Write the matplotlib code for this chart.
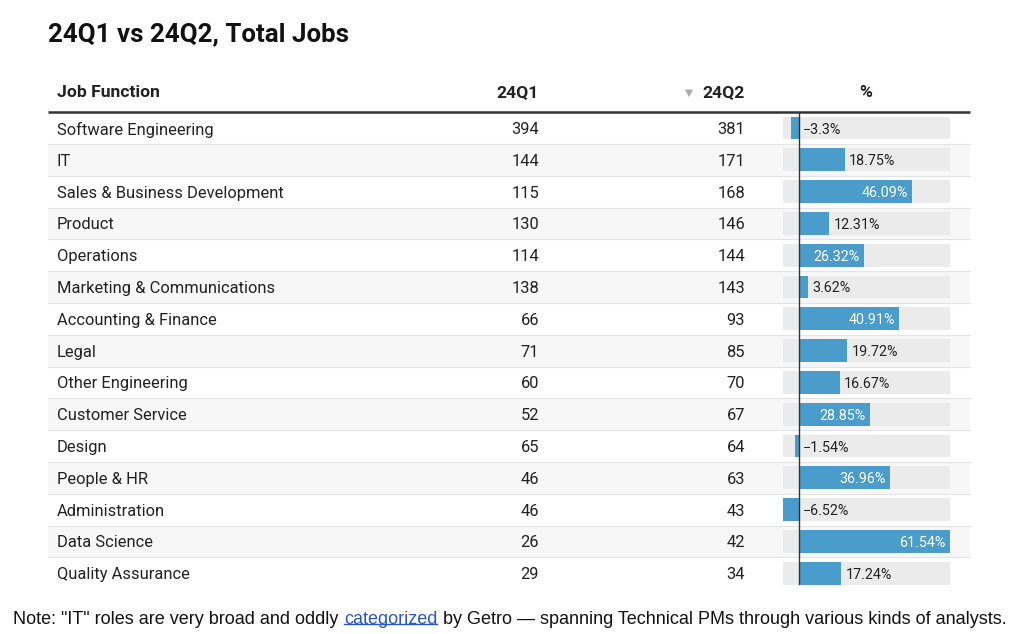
import matplotlib.pyplot as plt

# data
functions = [
    "Software Engineering", "IT", "Sales & Business Development", "Product",
    "Operations", "Marketing & Communications", "Accounting & Finance", "Legal",
    "Other Engineering", "Customer Service", "Design", "People & HR",
    "Administration", "Data Science", "Quality Assurance",
]
q1 = [394, 144, 115, 130, 114, 138, 66, 71, 60, 52, 65, 46, 46, 26, 29]
q2 = [381, 171, 168, 146, 144, 143, 93, 85, 70, 67, 64, 63, 43, 42, 34]

pct = [round((b - a) / a * 100, 2) for a, b in zip(q1, q2)]


def fmt_pct(v):
    s = f"{abs(v):.2f}".rstrip("0").rstrip(".")
    return ("\u2212" if v < 0 else "") + s + "%"


W, H = 1012, 634
fig = plt.figure(figsize=(W / 100, H / 100), dpi=100)
plt.rcParams["font.family"] = ["Roboto", "DejaVu Sans"]

ax = fig.add_axes([0, 0, 1, 1])
ax.set_xlim(0, W)
ax.set_ylim(H, 0)
ax.axis("off")

left, right = 48, 970
y0, step = 128, 31.8
n = len(functions)

ax.text(48, 32, "24Q1 vs 24Q2, Total Jobs", fontsize=18.6, fontweight="bold",
        va="center_baseline", color="#111111")

# header
hy = 91
hfs = 12.6
ax.text(57, hy, "Job Function", fontsize=hfs, fontweight="bold", va="center_baseline", color="#222222")
ax.text(539, hy, "24Q1", fontsize=hfs, fontweight="bold", va="center_baseline", ha="right", color="#222222")
ax.text(745, hy, "24Q2", fontsize=hfs, fontweight="bold", va="center_baseline", ha="right", color="#222222")
ax.text(689, hy + 1, "\u25bc", fontsize=7.5, family="DejaVu Sans", va="center_baseline",
        ha="center", color="#aaaaaa")
ax.text(866, hy, "%", fontsize=hfs, fontweight="bold", va="center_baseline", ha="center", color="#222222")
ax.plot([left, right], [112, 112], color="#333333", lw=1.8, solid_capstyle="butt")

# rows
rfs = 11.9
for i, name in enumerate(functions):
    cy = y0 + i * step
    top, bot = cy - step / 2, cy + step / 2
    if i % 2 == 1:
        ax.axhspan(top, bot, xmin=left / W, xmax=right / W, color="#f7f7f7", lw=0)
    if i > 0:
        ax.plot([left, right], [top, top], color="#e4e4e4", lw=0.8)
    ax.text(57, cy, name, fontsize=rfs, va="center_baseline", color="#222222")
    ax.text(539, cy, str(q1[i]), fontsize=rfs, va="center_baseline", ha="right", color="#222222")
    ax.text(745, cy, str(q2[i]), fontsize=rfs, va="center_baseline", ha="right", color="#222222")

# bar column
bx0, bx1 = 783, 950
ytop, ybot = y0 - step / 2, y0 + (n - 0.5) * step
bx = fig.add_axes([bx0 / W, 1 - ybot / H, (bx1 - bx0) / W, (ybot - ytop) / H])
bx.patch.set_alpha(0)
lo, hi = min(pct), max(pct)
bx.set_xlim(lo, hi)
bx.set_ylim(n - 0.5, -0.5)
bx.axis("off")
rows = list(range(n))
bx.barh(rows, [hi - lo] * n, left=lo, height=0.72, color="#ebebeb", lw=0)
bx.barh(rows, pct, height=0.72, color="#4a9dcb", lw=0)
bx.axvline(0, ymin=0.01, ymax=1.0, color="#333333", lw=1)
pfs = 10.3
for i, v in enumerate(pct):
    lab = fmt_pct(v)
    if v > 25:
        bx.annotate(lab, (v, i), xytext=(-3, 0), textcoords="offset points", ha="right",
                    va="center_baseline", fontsize=pfs, color="white")
    elif v > 0:
        bx.annotate(lab, (v, i), xytext=(3, 0), textcoords="offset points", ha="left",
                    va="center_baseline", fontsize=pfs, color="#222222")
    else:
        bx.annotate(lab, (0, i), xytext=(3, 0), textcoords="offset points", ha="left",
                    va="center_baseline", fontsize=pfs, color="#222222")

# footnote
ny = 628
fs = 13
t1 = ax.text(13, ny, 'Note: "IT" roles are very broad and oddly', fontsize=fs,
             family="Liberation Sans", va="bottom", color="#111111")
t2 = ax.annotate("categorized", xy=(1, 0), xycoords=t1, xytext=(4, 0),
                 textcoords="offset points", fontsize=fs, family="Liberation Sans",
                 va="bottom", color="#2a57c6")
t3 = ax.annotate("by Getro \u2014 spanning Technical PMs through various kinds of analysts.",
                 xy=(1, 0), xycoords=t2, xytext=(4, 0), textcoords="offset points",
                 fontsize=fs, family="Liberation Sans", va="bottom", color="#111111")

fig.canvas.draw()
bb = t2.get_window_extent()
uy = H - bb.y0 - 4
ax.plot([bb.x0, bb.x1], [uy, uy], color="#2a57c6", lw=1)

fig.savefig("out.png", dpi=100)
